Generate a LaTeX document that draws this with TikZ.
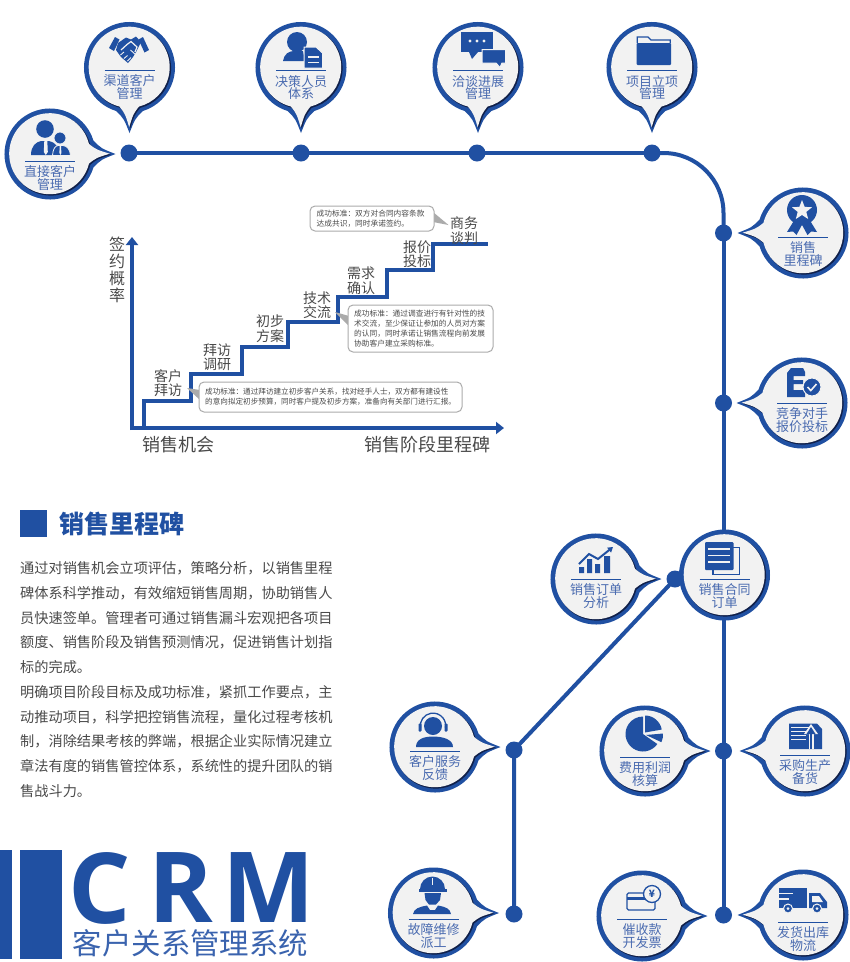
\documentclass[tikz,border=0pt]{standalone}
\usepackage{fontspec}
\setmainfont{Noto Sans CJK SC}
\newfontfamily\logofont{Open Sans}
\usetikzlibrary{arrows.meta,calc}
\definecolor{mainblue}{HTML}{2050A2}
\definecolor{lblue}{HTML}{4A6BB0}
\definecolor{subblue}{HTML}{3A63AE}
\definecolor{bubbg}{HTML}{F2F2F2}
\definecolor{bubdark}{HTML}{10204A}
\definecolor{txtgray}{HTML}{4A4A4A}
\definecolor{boxgray}{HTML}{ABABAB}
\newcommand{\fsz}[2]{\fontsize{#1}{#2}\selectfont}
\tikzset{
  wire/.style={draw=mainblue,line width=4pt},
  stairs/.style={draw=mainblue,line width=3.2pt,line join=miter},
  axisline/.style={draw=mainblue,line width=4pt,-{Triangle[length=8pt,width=12pt]}},
  hub/.style={circle,fill=mainblue,minimum size=17pt,inner sep=0pt,outer sep=0pt},
  bubtext/.style={text=lblue,align=center,inner sep=0pt,font=\fsz{13}{12.7}},
  steptext/.style={text=txtgray,align=center,inner sep=0pt,font=\fsz{14}{14.4}},
  axistext/.style={text=txtgray,inner sep=0pt,font=\fsz{18}{18}},
  callbox/.style={draw=boxgray,line width=1pt,fill=white,rounded corners=5pt},
  calltext/.style={text=txtgray,align=left,inner sep=0pt,anchor=west,font=\fsz{7.7}{10.2}},
  ic/.style={fill=mainblue},
  icw/.style={draw=bubbg,line width=1.2pt},
}
% bubble shape: radius, half-angle, tip distance
\newcommand{\bubshape}[3]{(#2:#1) arc[start angle=#2,end angle=360-#2,radius=#1]
  .. controls ({#1*cos(#2)+(#3-#1*cos(#2))*0.35},{-#1*sin(#2)*0.42}) .. (#3,0)
  .. controls ({#1*cos(#2)+(#3-#1*cos(#2))*0.35},{#1*sin(#2)*0.42}) .. cycle}
% name, cx, cy, direction, line offset, text
\newcommand{\bub}[6]{%
  \begin{scope}[shift={(#2,#3)},rotate=#4]\fill[mainblue] \bubshape{45.5}{17}{65.5};\end{scope}
  \begin{scope}[shift={(#2+.8,#3+.8)},rotate=#4]\fill[bubdark] \bubshape{40.8}{14}{60};\end{scope}
  \begin{scope}[shift={(#2-.3,#3-.3)},rotate=#4]\fill[bubbg] \bubshape{40.5}{14}{60};\end{scope}
  \draw[mainblue,line width=.9pt] (#2-25,#3+#5) -- (#2+25,#3+#5);
  \node[bubtext,anchor=center] (#1) at (#2,#3+#5+17) {#6};
}
\begin{document}
\begin{tikzpicture}[yscale=-1,x=1pt,y=1pt]
\useasboundingbox (0,0) rectangle (850,962);
\fill[white] (0,0) rectangle (850,962);

% hubs
\node[hub] (d1) at (129,153) {};
\node[hub] (d2) at (301,153) {};
\node[hub] (d3) at (477,153) {};
\node[hub] (d4) at (652,153) {};
\node[hub] (d5) at (723.5,233) {};
\node[hub] (d6) at (723.5,403) {};
\node[hub] (d7) at (675,579) {};
\node[hub] (d8) at (723.5,751) {};
\node[hub] (d9) at (723.5,915) {};
\node[hub] (d10) at (514,750) {};
\node[hub] (d11) at (514,914) {};

% connectors
\draw[wire] (d1.center) -- (d2.center) -- (d3.center) -- (d4.center);
\draw[wire,rounded corners=60pt] (d4.center) -| (d5.center);
\draw[wire] (d5.center) -- (d6.center) -- (d8.center) -- (d9.center);
\draw[wire] (d7.center) -- (d10.center) -- (d11.center);

% bubbles
\bub{b1}{50}{154}{0}{7}{直接客户\\管理}
\bub{b2}{129.5}{67.5}{90}{2.5}{渠道客户\\管理}
\bub{b3}{301}{67.5}{90}{3}{决策人员\\体系}
\bub{b4}{478}{67.5}{90}{3}{洽谈进展\\管理}
\bub{b5}{652}{67.5}{90}{3}{项目立项\\管理}
\bub{b6}{803}{233}{180}{4}{销售\\里程碑}
\bub{b7}{802}{403}{180}{0}{竞争对手\\报价投标}
\bub{b8}{596}{579}{0}{0}{销售订单\\分析}
\bub{b10}{435}{747}{0}{4}{客户服务\\反馈}
\bub{b11}{645}{751}{0}{6}{费用利润\\核算}
\bub{b12}{805}{751}{180}{4}{采购生产\\备货}
\bub{b13}{433.5}{913}{0}{6}{故障维修\\派工}
\bub{b14}{642}{916}{0}{3}{催收款\\开发票}
\bub{b15}{803}{915}{180}{7}{发货出库\\物流}
% contract circle, no tail
\fill[mainblue] (724.5,575) circle[radius=45.5];
\fill[bubdark] (725.3,575.8) circle[radius=40.8];
\fill[bubbg] (724.2,574.7) circle[radius=40.5];
\draw[mainblue,line width=.9pt] (699.5,579) -- (749.5,579);
\node[bubtext] (b9) at (724.5,596) {销售合同\\订单};

% --- icons ---
% direct customers
\fill[ic] (45,129) circle[radius=8.8];
\fill[ic] (31,155) .. controls (31,146) and (36,142) .. (41,141) -- (49,141) .. controls (55,142) and (59,147) .. (60,155) -- cycle;
\fill[bubbg] (44.3,141) -- (47.3,141) -- (47.8,152) -- (45.8,155) -- (43.8,152) -- cycle;
\fill[ic,draw=bubbg,line width=.8pt] (60,138) circle[radius=6];
\fill[ic,draw=bubbg,line width=.8pt] (52.5,155.4) .. controls (53,149) and (55,146) .. (58,145.5) -- (63,145.5) .. controls (67,146) and (70,149) .. (70.5,155.4) -- cycle;
\fill[bubbg] (59.7,146) -- (61,146) -- (61.4,153) -- (60.4,155) -- (59.4,153) -- cycle;
% handshake
\fill[ic] (109,48) -- (115,37) -- (119.5,39.5) -- (114,51) -- cycle;
\fill[ic] (143,37) -- (149,50) -- (144.5,52.5) -- (138.5,39.5) -- cycle;
\fill[ic] (118,43) -- (126,37.5) -- (131,39.5) -- (136,36.5) -- (141,42) -- (136,52) -- (133,57) -- (128,63) -- (121,57) -- (116,50) -- cycle;
\draw[icw] (121,50) -- (127,44.5) -- (131,41.5) -- (137,47) -- (135,52);
\draw[icw,line width=.9pt] (120.5,55) -- (124,52) (124,58.5) -- (127.5,55.5) (127.5,61) -- (131,57.5) (130.5,50) -- (136,55);
% person + document
\fill[ic] (297,42) circle[radius=10];
\fill[ic] (283,61) .. controls (284,54) and (289,51) .. (294,51) -- (303,51) -- (305,61) -- cycle;
\fill[ic,draw=bubbg,line width=1pt] (304,47) -- (316,47) -- (322.5,53) -- (322.5,68) -- (304,68) -- cycle;
\draw[bubbg,line width=1.8pt] (308,57) -- (319,57) (308,62.5) -- (319,62.5);
% chat
\fill[ic] (461,32) rectangle (493,52);
\fill[ic] (469,52) -- (472,59) -- (478,52) -- cycle;
\fill[bubbg] (470,41) circle[radius=1.7] (477,41) circle[radius=1.7] (484,41) circle[radius=1.7];
\fill[ic,draw=bubbg,line width=1pt] (482,49.5) -- (505.5,49.5) -- (505.5,63) -- (502,63) -- (500,67.5) -- (496,63) -- (482,63) -- cycle;
% folder
\fill[ic,rounded corners=1pt] (636.5,43) rectangle (671,65);
\draw[mainblue,line width=1.2pt] (637.2,43) -- (637.2,37) -- (648,37) -- (651,40) -- (670.2,40) -- (670.2,43);
% rosette
\fill[ic] (795,219) -- (787,232) -- (793,231.5) -- (796.5,235) -- (803,223) -- cycle;
\fill[ic] (809,219) -- (817,232) -- (811,231.5) -- (807.5,235) -- (801,223) -- cycle;
\fill[ic] (802,210) circle[radius=15];
\begin{scope}[shift={(802,210.5)}]
\fill[bubbg] (-90:10.5) -- (-54:4.5) -- (-18:10.5) -- (18:4.5) -- (54:10.5) -- (90:4.5) -- (126:10.5) -- (162:4.5) -- (198:10.5) -- (234:4.5) -- cycle;
\end{scope}
% competitor
\fill[ic] (791,368) -- (803,368) -- (805,372) -- (805,376) -- (793.5,376) -- (793.5,380) -- (803,380) -- (803,384) -- (793.5,384) -- (793.5,390) -- (805,390) -- (805,397) -- (787,397) -- (787,373) -- cycle;
\fill[ic,draw=bubbg,line width=1pt] (812,387) circle[radius=9];
\draw[bubbg,line width=1.6pt] (807.5,387) -- (810.8,390.5) -- (816.5,384);
% order chart
\fill[ic] (579,567) rectangle (584,573) (587,559) rectangle (592,573) (595,564) rectangle (600,573) (604,556) rectangle (610,573);
\draw[mainblue,line width=2pt,-{Triangle[length=5pt,width=6pt]}] (579,564) -- (589,554) -- (598,559) -- (613,547);
% contract doc
\draw[mainblue,line width=1.2pt] (733,547.5) -- (739.5,547.5) -- (739.5,574.5) -- (713,574.5) -- (713,570);
\fill[ic,rounded corners=1pt] (705,542) rectangle (733.5,570);
\draw[bubbg,line width=1.5pt] (708,549) -- (730,549) (708,555.5) -- (730,555.5) (708,562) -- (730,562);
% customer service
\fill[ic] (433,726) circle[radius=9];
\draw[mainblue,line width=1.3pt] (420.5,728) arc[start angle=170,end angle=370,radius=12.7];
\fill[ic,rounded corners=.8pt] (418.5,723.5) rectangle (421.5,731.5) (444.5,723.5) rectangle (447.5,731.5);
\fill[ic] (416,747) .. controls (416,739) and (424,736.5) .. (433,736.5) .. controls (442,736.5) and (453,739) .. (453,747) -- cycle;
% pie
\begin{scope}[shift={(643,734)}]
\fill[ic] (0,0) -- (35:17.5) arc[start angle=35,end angle=270,radius=17.5] -- cycle;
\fill[ic] (2,-1.5) -- ++(-90:17) arc[start angle=-90,end angle=-10,radius=17] -- cycle;
\fill[ic] (3,1) -- ++(-5:17) arc[start angle=-5,end angle=25,radius=17] -- cycle;
\end{scope}
% purchase
\fill[ic] (789,723.5) -- (817,723.5) -- (822,729) -- (822,749) -- (789,749) -- cycle;
\draw[bubbg,line width=.8pt] (791,727) -- (813,727) (791,731) -- (809,731) (791,735) -- (806,735) (791,739) -- (806,739);
\draw[bubbg,line width=5pt] (811,749) -- (811,731);
\fill[bubbg] (811,724) -- (818,734) -- (804,734) -- cycle;
\draw[mainblue,line width=2pt] (811,749) -- (811,733);
\fill[ic] (811,727) -- (815.5,734) -- (806.5,734) -- cycle;
% worker
\fill[ic] (420,889) arc[start angle=180,end angle=360,radius=12.5] -- cycle;
\fill[ic] (418.5,889) rectangle (446.5,891.5);
\fill[ic] (424.5,893) -- (441,893) -- (440,900) -- (436,904.5) -- (429,904.5) -- (425.5,900) -- cycle;
\fill[ic] (413,914) .. controls (414,908.5) and (419,907) .. (427,905.5) -- (430,910) -- (435,910) -- (438,905.5) .. controls (446,907) and (450,908.5) .. (451,914) -- cycle;
\draw[bubbg,line width=.8pt] (432.5,878) -- (432.5,885);
% invoice card
\draw[mainblue,line width=1.3pt,rounded corners=1.5pt] (627,893) rectangle (655,910);
\fill[ic] (627,897) rectangle (655,899.5);
\fill[bubbg,draw=mainblue,line width=1.3pt] (652,894) circle[radius=8.5];
\node[text=mainblue,inner sep=0pt,font=\fsz{10}{10}\bfseries] (yen) at (652,894) {¥};
% truck
\fill[ic] (779,888) rectangle (807,908);
\draw[bubbg,line width=1.6pt] (777,893.5) -- (793,893.5) (777,899) -- (789,899);
\fill[ic] (809,893) -- (820,893) -- (827,902) -- (827,908) -- (809,908) -- cycle;
\fill[bubbg] (812,896) -- (819,896) -- (823,902) -- (812,902) -- cycle;
\fill[ic,draw=bubbg,line width=1pt] (788,908.5) circle[radius=4.5] (817,908.5) circle[radius=4.5];
\fill[bubbg] (788,908.5) circle[radius=1.5] (817,908.5) circle[radius=1.5];

% --- stair chart ---
\coordinate (org) at (130,428);
\coordinate (ytop) at (132,237);
\coordinate (xend) at (504,428);
\draw[axisline] (132,430) -- (ytop);
\draw[axisline] (org) -- (xend);
\coordinate (s0) at (144,428);
\coordinate (s8) at (488,244);
\draw[stairs] (s0) -- (144,401) -- (191,401) -- (191,374) -- (242,374) -- (242,347) -- (288,347) -- (288,322) -- (338,322) -- (338,297) -- (387,297) -- (387,270) -- (433,270) -- (433,244) -- (s8);

\node[steptext] (t1) at (168,383) {客户\\拜访};
\node[steptext] (t2) at (217,357) {拜访\\调研};
\node[steptext] (t3) at (270,328.5) {初步\\方案};
\node[steptext] (t4) at (317,305) {技术\\交流};
\node[steptext] (t5) at (361,280.5) {需求\\确认};
\node[steptext] (t6) at (417,254) {报价\\投标};
\node[steptext] (t7) at (464,230.5) {商务\\谈判};
\node[text=txtgray,align=center,inner sep=0pt,font=\fsz{16}{16.8}] (yl) at (117,270) {签\\约\\概\\率};
\node[axistext,anchor=west] (xl1) at (142,445) {销售机会};
\node[axistext,anchor=west] (xl2) at (364,445) {销售阶段里程碑};

% callouts
\fill[boxgray] (433,212) -- (448.5,225) -- (433,222) -- cycle;
\draw[callbox] (310,206) rectangle (434,231);
\node[calltext] (c1) at (316.5,218.5) {成功标准：双方对合同内容条款\\达成共识，同时承诺签约。};
\fill[boxgray] (349,316) -- (335,312) -- (349,326) -- cycle;
\draw[callbox] (348,305) rectangle (493,352);
\node[calltext] (c2) at (354,328.5) {成功标准：通过调查进行有针对性的技\\术交流，至少保证让参加的人员对方案\\的认同，同时承诺让销售流程向前发展\\协助客户建立采购标准。};
\fill[boxgray] (200,390) -- (187,388) -- (200,400) -- cycle;
\draw[callbox] (199,382) rectangle (462,412);
\node[calltext,font=\fsz{7.6}{10.2}] (c3) at (205,396.5) {成功标准：通过拜访建立初步客户关系，找对经手人士，双方都有建设性\\的意向拟定初步预算，同时客户提及初步方案，准备向有关部门进行汇报。};

% heading + paragraph
\fill[mainblue] (19.5,510) rectangle (47,537);
\node[text=mainblue,inner sep=0pt,anchor=west,font=\fsz{25}{25}\bfseries] (h) at (59,524) {销售里程碑};
\node[text=txtgray,inner sep=0pt,anchor=west,align=left,font=\fsz{14.2}{24.75}] (para) at (20,679.5) {通过对销售机会立项评估，策略分析，以销售里程\\碑体系科学推动，有效缩短销售周期，协助销售人\\员快速签单。管理者可通过销售漏斗宏观把各项目\\额度、销售阶段及销售预测情况，促进销售计划指\\标的完成。\\明确项目阶段目标及成功标准，紧抓工作要点，主\\动推动项目，科学把控销售流程，量化过程考核机\\制，消除结果考核的弊端，根据企业实际情况建立\\章法有度的销售管控体系，系统性的提升团队的销\\售战斗力。};

% logo
\fill[mainblue] (0,850) rectangle (12,959);
\fill[mainblue] (19.5,850) rectangle (62,959);
\node[text=mainblue,inner sep=0pt,font=\fsz{98}{98}\logofont\bfseries] (lc) at (100,888) {C};
\node[text=mainblue,inner sep=0pt,font=\fsz{98}{98}\logofont\bfseries] (lr) at (180.5,888) {R};
\node[text=mainblue,inner sep=0pt,font=\fsz{98}{98}\logofont\bfseries] (lm) at (269,888) {M};
\node[text=subblue,inner sep=0pt,font=\fsz{29.4}{29.4}] (sub) at (190.5,943.5) {客户关系管理系统};
\end{tikzpicture}
\end{document}
